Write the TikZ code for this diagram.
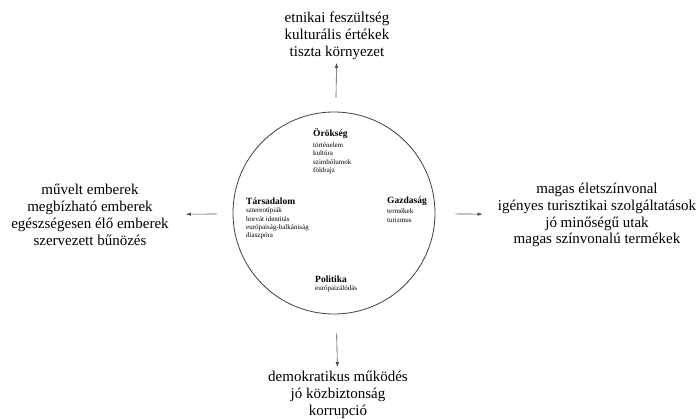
\documentclass[tikz,border=0pt]{standalone}
\usepackage{fontspec}
\setmainfont{Liberation Serif}
\usetikzlibrary{positioning,arrows.meta}
\tikzset{
  outcome/.style={align=center,font=\fontsize{15}{16.8}\selectfont,inner sep=0pt},
  factor/.style={anchor=west,font=\bfseries\fontsize{9.5}{11}\selectfont,inner sep=0pt},
  items/.style={align=left,font=\fontsize{7}{8.4}\selectfont,inner sep=0pt},
  arr/.style={-{Latex[length=5pt,width=3.5pt]},black!70,line width=0.6pt},
}
\begin{document}
\begin{tikzpicture}[x=1pt,y=-1pt]
    \useasboundingbox (0,0) rectangle (699,418);
    \node[circle,draw=black!75,line width=0.8pt,minimum size=202pt,inner sep=0pt] (core) at (334,213) {};
    % factors inside the circle
    \node[factor] (heritage) at (313,134) {Örökség};
    \node[items,below=3pt of heritage.south west,anchor=north west] (heritage-items) {történelem\\kultúra\\szimbólumok\\földrajz};
    \node[factor] (society) at (246,201) {Társadalom};
    \node[items,below=3pt of society.south west,anchor=north west] (society-items) {sztereotípiák\\horvát identitás\\európaiság-balkániság\\diaszpóra};
    \node[factor] (economy) at (387,201) {Gazdaság};
    \node[items,below=3pt of economy.south west,anchor=north west] (economy-items) {termékek\\turizmus};
    \node[factor] (politics) at (315,279) {Politika};
    \node[items,below=3pt of politics.south west,anchor=north west] (politics-items) {európaizálódás};
    % outcomes
    \node[outcome] (north-list) at (337,36) {etnikai feszültség\\kulturális értékek\\tiszta környezet};
    \node[outcome] (south-list) at (338,395) {demokratikus működés\\jó közbiztonság\\korrupció};
    \node[outcome] (west-list) at (90,215) {művelt emberek\\megbízható emberek\\egészségesen élő emberek\\szervezett bűnözés};
    \node[outcome] (east-list) at (597,215) {magas életszínvonal\\igényes turisztikai szolgáltatások\\jó minőségű utak\\magas színvonalú termékek};
    \draw[arr,shorten <=14pt,shorten >=3pt] (core) -- (north-list);
    \draw[arr,shorten <=19pt,shorten >=4pt] (core) -- (south-list);
    \draw[arr,shorten <=16pt,shorten >=17pt] (core) -- (west-list);
    \draw[arr,shorten <=20pt,shorten >=15pt] (core) -- (east-list);
\end{tikzpicture}
\end{document}
